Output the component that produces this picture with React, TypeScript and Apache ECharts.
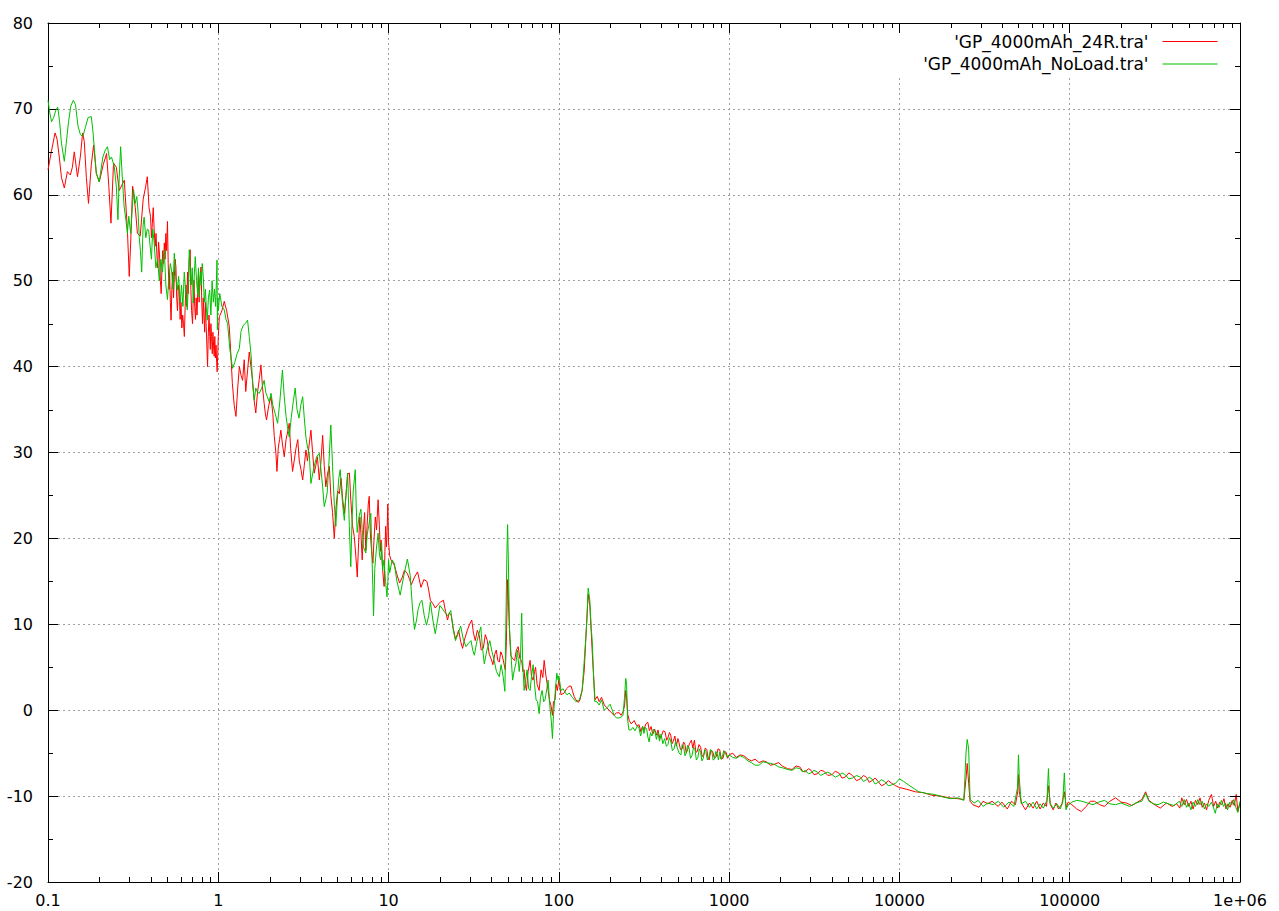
import React, { useEffect, useRef } from 'react';
import * as echarts from 'echarts';

const FONT = "'DejaVu Sans', 'Liberation Sans', sans-serif";
const X_MIN = 0.1;
const X_MAX = 1e6;
const Y_MIN = -20;
const Y_MAX = 80;
const Y_STEP = 10;
const xTickLabels = ['0.1', '1', '10', '100', '1000', '10000', '100000', '1e+06'];
const xMinorMantissas = [2, 3, 4, 5, 6, 7, 8, 9];
const xDecadeStarts = [0.1, 1, 10, 100, 1000, 10000, 100000];
const yMinorTicks = [-15, -5, 5, 15, 25, 35, 45, 55, 65, 75];
const seriesNames = ["'GP_4000mAh_24R.tra'", "'GP_4000mAh_NoLoad.tra'"];
const seriesColors = ['#ff0000', '#00c000'];

// ---- 'GP_4000mAh_24R.tra' (red) : [frequency, dB]
const redLow = [
  [0.1, 62.9], [0.1046, 65.0], [0.11, 67.2], [0.113, 66.5], [0.1165, 64.4], [0.12, 62.0], [0.1247, 60.8],
  [0.13, 62.7], [0.1353, 62.3], [0.139, 63.2], [0.1427, 65.0], [0.149, 62.1], [0.155, 64.5], [0.1597, 67.2],
  [0.1633, 66.2], [0.168, 62.0], [0.1729, 59.0], [0.1796, 63.5], [0.1853, 65.8], [0.1922, 62.5], [0.2, 61.5],
  [0.211, 63.5], [0.2208, 64.8], [0.2276, 61.0], [0.2343, 56.7], [0.2426, 63.7], [0.252, 63.2], [0.262, 60.5],
  [0.2806, 61.7], [0.2925, 56.0], [0.3, 50.5], [0.306, 54.5], [0.314, 61.0], [0.3256, 58.5], [0.335, 55.5],
  [0.348, 55.2], [0.3623, 59.5], [0.3749, 61.0], [0.383, 62.1], [0.392, 58.5],
  [0.4, 57.5], [0.405, 55.0], [0.41, 56.7], [0.415, 58.5], [0.42, 56.0], [0.426, 54.0], [0.431, 55.5],
  [0.436, 53.0], [0.441, 51.5], [0.446, 54.5], [0.452, 53.0], [0.457, 50.0], [0.462, 48.5], [0.467, 51.5],
  [0.472, 53.5], [0.477, 52.0], [0.482, 54.4], [0.487, 52.5], [0.492, 55.5], [0.497, 53.5], [0.503, 56.9],
  [0.508, 52.0], [0.513, 49.0], [0.518, 51.0], [0.523, 47.5], [0.528, 45.4], [0.534, 49.0], [0.54, 51.0],
  [0.546, 48.0], [0.552, 50.5], [0.558, 52.5], [0.564, 51.6], [0.57, 48.0], [0.576, 46.5], [0.583, 49.5],
  [0.59, 48.9], [0.597, 45.5], [0.604, 47.5], [0.611, 44.5], [0.618, 46.0], [0.625, 45.0], [0.632, 43.5],
  [0.639, 47.0], [0.646, 49.5], [0.653, 47.0], [0.66, 51.0], [0.667, 48.5], [0.675, 52.5], [0.684, 53.6],
  [0.69, 49.0], [0.697, 46.5], [0.706, 45.0], [0.713, 48.0], [0.72, 50.0], [0.727, 47.0], [0.735, 45.5],
  [0.742, 48.0], [0.75, 46.0], [0.757, 48.5], [0.765, 51.0], [0.772, 47.5], [0.78, 50.0], [0.792, 51.6],
  [0.8, 47.5], [0.808, 45.0], [0.816, 48.0], [0.824, 46.0], [0.832, 44.0], [0.84, 47.5], [0.848, 45.0],
  [0.857, 42.5], [0.865, 40.0], [0.873, 43.5], [0.882, 46.0], [0.89, 44.0], [0.898, 42.0], [0.905, 45.0],
  [0.913, 43.5], [0.922, 41.5], [0.93, 44.0], [0.938, 42.5], [0.946, 41.2], [0.954, 43.5], [0.962, 41.0],
  [0.97, 42.5], [0.978, 40.5], [0.985, 39.4], [0.993, 41.5], [1.0, 43.5],
];
const redMid = [
  [1.014, 45.8], [1.05, 46.5], [1.084, 47.6], [1.12, 46.5], [1.16, 44.7], [1.187, 41.2], [1.21, 38.0],
  [1.24, 35.5], [1.27, 34.2], [1.3, 37.5], [1.33, 40.0], [1.36, 39.0], [1.39, 38.4], [1.42, 40.8],
  [1.45, 37.1], [1.485, 39.5], [1.52, 41.7], [1.555, 40.0], [1.59, 38.4], [1.625, 36.0], [1.66, 34.6],
  [1.7, 37.0], [1.74, 38.5], [1.78, 40.2], [1.82, 37.5], [1.86, 35.7], [1.89, 34.5], [1.92, 33.8],
  [1.98, 35.5], [2.04, 36.5], [2.09, 34.5], [2.13, 32.0], [2.18, 29.9], [2.21, 27.8], [2.25, 30.5],
  [2.29, 31.5], [2.33, 32.6], [2.38, 31.0], [2.44, 29.5], [2.5, 31.5], [2.56, 32.5], [2.61, 33.4],
  [2.66, 30.5], [2.73, 27.8], [2.79, 29.0], [2.86, 30.5], [2.93, 31.5], [2.99, 29.0], [3.06, 28.0],
  [3.13, 26.8], [3.2, 28.5], [3.27, 30.3], [3.34, 29.0], [3.42, 31.0], [3.5, 32.6], [3.58, 30.0],
  [3.66, 27.6], [3.74, 28.5], [3.82, 29.5], [3.92, 26.8], [4.01, 29.0], [4.1, 32.0], [4.19, 28.5],
  [4.28, 26.0], [4.38, 27.5], [4.49, 28.4], [4.58, 25.0], [4.69, 23.0], [4.8, 20.0], [4.91, 23.5],
  [5.02, 25.5], [5.14, 25.2], [5.26, 27.0], [5.38, 24.5], [5.5, 22.9], [5.62, 25.0], [5.75, 27.5],
  [5.89, 27.6], [6.0, 24.5], [6.14, 21.5], [6.29, 20.2], [6.42, 18.0], [6.55, 15.5], [6.67, 19.5],
  [6.78, 22.5], [6.88, 20.6], [7.0, 17.5], [7.12, 21.0], [7.23, 23.0], [7.35, 18.6], [7.48, 21.5],
  [7.6, 24.0], [7.7, 24.9], [7.82, 20.5], [7.95, 18.5], [8.09, 17.1], [8.22, 20.0], [8.36, 22.5],
  [8.5, 21.0], [8.68, 24.5], [8.83, 21.5], [8.95, 18.5], [9.04, 19.8], [9.18, 17.0], [9.3, 15.5],
  [9.42, 14.4], [9.52, 18.5], [9.61, 21.4], [9.72, 19.0], [9.8, 20.8], [9.9, 24.0], [10.0, 19.5],
];
const redHigh = [
  [10.15, 18.0], [10.33, 17.5], [10.8, 16.9], [11.2, 15.8], [11.6, 14.8], [12.0, 15.4], [12.4, 16.3],
  [12.9, 15.9], [13.3, 15.2], [13.6, 14.6], [14.2, 15.5], [14.8, 16.1], [15.5, 14.3], [16.1, 15.2],
  [16.8, 15.0], [17.2, 14.0], [17.6, 12.8], [18.2, 12.4], [18.8, 11.9], [19.5, 12.3], [20.2, 12.6],
  [21.0, 12.8], [21.6, 11.5], [22.2, 10.5], [22.7, 11.3], [23.3, 11.1], [24.0, 9.5], [24.7, 8.3],
  [25.3, 8.8], [25.8, 9.3], [26.5, 8.0], [27.2, 7.2], [28.0, 8.3], [29.0, 9.3], [29.9, 10.0], [30.8, 10.5],
  [31.5, 9.0], [32.3, 8.1], [33.2, 9.3], [34.1, 8.7], [35.0, 7.0], [36.0, 7.2], [37.0, 8.8], [38.0, 8.1],
  [39.0, 6.5], [40.0, 6.0], [41.0, 5.3], [42.0, 6.5], [42.9, 7.0], [43.8, 5.8], [44.7, 5.6], [45.6, 6.8],
  [46.5, 6.4], [47.5, 5.5], [48.5, 4.7], [49.2, 8.0], [50.0, 15.2], [50.7, 12.0], [51.5, 8.5], [52.2, 6.4],
  [53.5, 6.0], [55.0, 5.8], [56.3, 7.0], [57.7, 7.4], [59.0, 6.0], [60.5, 5.8], [61.5, 4.5], [62.5, 4.7],
  [63.5, 3.0], [64.5, 2.3], [66.0, 4.5], [67.8, 5.8], [69.0, 4.0], [70.6, 3.5], [72.0, 4.5], [73.0, 5.0],
  [74.5, 3.0], [76.6, 2.3], [78.6, 4.7], [80.5, 3.8], [82.0, 5.8], [84.0, 4.0], [86.5, 2.3], [88.0, 1.2],
  [90.0, 0.5], [91.7, -0.6], [93.0, 1.0], [95.0, 1.2], [96.5, 3.0], [98.0, 2.3], [100.0, 3.5],
  [103, 1.8], [107.4, 2.0], [111, 2.5], [115, 2.8], [118, 2.8], [120, 2.3], [123, 1.6], [126, 1.2],
  [130, 0.9], [133, 1.2], [137, 2.3], [141, 4.7], [145, 9.5], [148.6, 13.5], [152, 12.2], [155, 9.0],
  [158, 5.8], [163, 1.2], [168, 1.6], [172.5, 1.0], [178, 1.5], [185, 0.6], [191, 0.3], [197, 0.0],
  [204, -0.3], [211, -0.6], [218, -0.3], [226, -0.3], [232, -0.6], [238, -0.2], [243, 0.5], [247, 2.3],
  [250, 1.5], [254, -0.5], [259, -1.2], [266, -1.6], [277, -1.2], [286, -1.8], [296, -1.7], [303, -2.5],
  [310, -1.9], [316, -2.3], [324, -1.6], [333, -1.4], [340, -2.4], [348, -1.9], [356, -2.8], [365, -2.2],
  [375, -2.9], [382, -2.3], [392, -3.3], [400, -3.0], [410, -2.4], [420, -2.5], [430, -3.5], [437, -3.2],
  [446, -2.6], [454, -2.9], [462, -3.9], [470, -3.6], [480, -3.0], [490, -4.2], [500, -3.3], [508, -3.8],
  [518, -4.6], [530, -4.5], [540, -3.7], [550, -4.0], [560, -5.0], [570, -4.6], [585, -3.9], [600, -3.5],
  [612, -4.4], [625, -3.5], [638, -4.9], [650, -4.8], [665, -4.0], [680, -4.3], [695, -5.4], [710, -5.2],
  [725, -4.4], [740, -4.6], [752, -5.6], [763, -5.8], [780, -4.7], [800, -4.8], [820, -5.6], [840, -5.4],
  [860, -4.5], [880, -4.6], [900, -5.7], [920, -5.6], [940, -4.8], [960, -4.9], [980, -5.6],
];
const redTail = [
  [1000, -5.2], [1050, -5.0], [1100, -5.5], [1160, -5.2], [1220, -5.3], [1290, -5.7], [1350, -5.9],
  [1420, -5.7], [1500, -6.1], [1580, -5.9], [1650, -6.0], [1750, -6.4], [1840, -6.3], [1950, -6.1],
  [2050, -6.5], [2200, -6.8], [2340, -6.9], [2470, -6.5], [2600, -6.6], [2700, -7.1], [2800, -7.2],
  [2920, -6.8], [3030, -7.0], [3150, -7.5], [3300, -7.4], [3450, -7.0], [3600, -7.1], [3800, -7.6],
  [4020, -7.5], [4200, -7.1], [4400, -7.3], [4600, -7.9], [4800, -7.8], [5050, -7.3], [5300, -7.6],
  [5600, -8.2], [5900, -8.0], [6150, -7.6], [6400, -7.8], [6650, -8.4], [6900, -8.2], [7200, -7.9],
  [7500, -8.3], [7850, -8.8], [8200, -8.6], [8600, -8.2], [9000, -8.5], [9500, -8.8], [10000, -9.0],
  [11000, -9.2], [12400, -9.5], [13800, -9.6], [15500, -9.9], [17500, -10.0], [19500, -10.2],
  [22000, -10.3], [23900, -10.4], [24600, -8.0], [25000, -6.2], [25500, -8.5], [26000, -10.6],
  [27000, -11.0], [29300, -11.3], [31000, -10.6], [33000, -10.9], [35000, -10.6], [38000, -11.2],
  [40000, -10.7], [43000, -11.5], [45500, -10.6], [48000, -11.0], [49500, -9.5], [50000, -7.5],
  [50600, -9.5], [52000, -10.8], [55000, -11.6], [58000, -10.8], [61000, -11.4], [64000, -10.6],
  [67000, -11.5], [70000, -10.8], [73000, -11.2], [75000, -8.8], [77000, -11.0], [80000, -11.6],
  [83000, -10.8], [86000, -11.5], [90000, -10.9], [93000, -9.5], [95500, -11.3], [98000, -10.7],
  [103000, -11.0], [110000, -11.5], [117000, -11.8], [125000, -11.2], [132000, -10.6], [140000, -10.6],
  [150000, -11.0], [160000, -11.2], [172000, -10.6], [186000, -10.2], [200000, -10.7], [215000, -10.8],
  [232000, -11.1], [250000, -10.7], [265000, -10.4], [279000, -9.5], [292000, -10.5], [310000, -10.9],
  [340000, -11.4], [370000, -10.8], [400000, -11.2], [425000, -10.9], [443000, -11.4], [455000, -10.2],
  [470000, -11.0], [485000, -10.4], [500000, -11.2], [515000, -10.6], [530000, -11.5], [548000, -10.5],
  [565000, -11.0], [582000, -10.2], [600000, -11.3], [618000, -10.8], [636000, -11.6], [655000, -10.5],
  [680000, -9.8], [700000, -11.2], [720000, -10.6], [740000, -11.4], [760000, -10.7], [782000, -11.0],
  [805000, -10.3], [828000, -11.5], [850000, -10.9], [875000, -11.3], [900000, -10.5], [925000, -11.1],
  [950000, -9.8], [972000, -11.8], [1000000, -10.8],
];

// ---- 'GP_4000mAh_NoLoad.tra' (green) : [frequency, dB]
const greenLow = [
  [0.1, 71.0], [0.1025, 69.5], [0.105, 68.5], [0.108, 69.0], [0.111, 69.8], [0.114, 70.2], [0.117, 68.5],
  [0.12, 66.0], [0.1247, 63.9], [0.128, 66.0], [0.132, 68.5], [0.136, 70.3], [0.1408, 71.0], [0.145, 70.5],
  [0.15, 68.0], [0.155, 67.0], [0.16, 66.8], [0.1656, 67.8], [0.172, 69.0], [0.1796, 69.1], [0.184, 67.2],
  [0.1922, 62.5], [0.2, 61.5], [0.205, 63.0], [0.21, 64.4], [0.217, 65.2], [0.2235, 65.6], [0.23, 64.1],
  [0.236, 64.4], [0.245, 63.3], [0.252, 60.9], [0.2575, 57.1], [0.262, 62.0], [0.267, 65.6], [0.274, 61.5],
  [0.28, 58.6], [0.287, 57.0], [0.2925, 55.5], [0.298, 57.5], [0.306, 55.5], [0.3115, 58.0], [0.318, 60.6],
  [0.325, 59.0], [0.3323, 59.8], [0.338, 58.0], [0.3436, 55.0], [0.349, 53.5], [0.355, 51.0], [0.362, 56.5],
  [0.367, 57.4], [0.375, 55.0], [0.383, 56.0], [0.39, 55.9], [0.398, 54.0], [0.405, 52.5], [0.412, 56.0],
  [0.42, 54.5], [0.43, 51.5], [0.44, 52.5], [0.4504, 50.0], [0.46, 52.5], [0.47, 51.0], [0.482, 53.6],
  [0.492, 49.5], [0.503, 47.8], [0.513, 50.5], [0.523, 52.0], [0.533, 51.0], [0.542, 49.0], [0.5515, 53.2],
  [0.562, 50.5], [0.5744, 48.9], [0.585, 50.5], [0.5982, 47.4], [0.608, 49.5], [0.62, 47.0], [0.6314, 51.0],
  [0.645, 48.5], [0.6577, 46.6], [0.668, 50.0], [0.6756, 53.6], [0.686, 51.0], [0.694, 49.5], [0.703, 51.5],
  [0.7131, 47.4], [0.722, 50.5], [0.7326, 52.8], [0.745, 50.0], [0.757, 48.5], [0.765, 51.5], [0.773, 48.1],
  [0.785, 51.0], [0.795, 49.5], [0.805, 52.0], [0.8164, 50.5], [0.828, 47.5], [0.84, 49.0], [0.85, 47.0],
  [0.8617, 45.4], [0.875, 48.0], [0.89, 48.9], [0.905, 46.0], [0.92, 50.0], [0.935, 47.5], [0.95, 49.0],
  [0.965, 47.0], [0.975, 50.0], [0.983, 52.4], [0.988, 44.3], [0.993, 48.0], [1.0, 46.5],
];
const greenMid = [
  [1.02, 48.5], [1.05, 47.0], [1.084, 46.6], [1.11, 45.5], [1.134, 45.0], [1.17, 42.0], [1.213, 39.8],
  [1.25, 40.5], [1.29, 41.5], [1.329, 42.1], [1.36, 44.1], [1.4, 44.8], [1.44, 45.0], [1.486, 45.4],
  [1.52, 43.5], [1.56, 41.2], [1.59, 38.0], [1.627, 36.1], [1.66, 37.5], [1.7, 37.0], [1.74, 36.9],
  [1.8, 37.5], [1.86, 38.4], [1.9, 37.0], [1.94, 36.5], [1.99, 35.9], [2.04, 36.9], [2.09, 35.5],
  [2.16, 34.5], [2.23, 33.4], [2.3, 36.0], [2.38, 39.6], [2.44, 36.5], [2.5, 34.2], [2.55, 33.0],
  [2.61, 31.8], [2.68, 34.0], [2.76, 36.0], [2.83, 37.5], [2.9, 35.0], [2.98, 34.0], [3.05, 35.5],
  [3.13, 36.5], [3.2, 34.0], [3.27, 31.8], [3.35, 30.5], [3.42, 29.9], [3.5, 26.4], [3.58, 27.5],
  [3.66, 28.4], [3.78, 29.5], [3.92, 29.9], [4.01, 28.0], [4.1, 26.0], [4.19, 23.7], [4.28, 24.5],
  [4.36, 25.3], [4.47, 29.0], [4.58, 33.2], [4.64, 30.5], [4.69, 28.4], [4.8, 24.0], [4.9, 21.4],
  [5.0, 24.5], [5.1, 27.0], [5.2, 28.0], [5.3, 25.5], [5.4, 23.5], [5.5, 22.1], [5.62, 25.0],
  [5.75, 27.6], [5.88, 21.5], [6.0, 16.7], [6.1, 22.0], [6.2, 25.5], [6.37, 28.0], [6.45, 24.0],
  [6.54, 20.7], [6.7, 22.5], [6.88, 23.4], [7.0, 21.0], [7.12, 19.0], [7.35, 18.3], [7.5, 20.5],
  [7.65, 21.5], [7.87, 22.9], [8.0, 17.5], [8.08, 14.5], [8.16, 11.0], [8.3, 16.5], [8.5, 19.0],
  [8.68, 20.6], [8.85, 18.0], [9.0, 17.5], [9.1, 19.5], [9.23, 16.3], [9.4, 17.5], [9.6, 15.0],
  [9.79, 13.2], [9.9, 15.0], [10.0, 17.5],
];
const greenHigh = [
  [10.15, 16.0], [10.5, 17.5], [10.8, 17.1], [11.2, 15.0], [11.7, 13.4], [12.3, 15.7], [12.9, 17.6],
  [13.4, 15.7], [13.8, 12.0], [14.2, 9.4], [14.6, 10.5], [14.9, 11.7], [15.3, 12.5], [15.7, 12.8],
  [16.2, 11.0], [16.7, 9.9], [17.2, 11.0], [17.6, 12.6], [18.2, 10.5], [18.8, 8.9], [19.4, 10.5],
  [20.0, 12.2], [20.7, 11.8], [21.4, 11.4], [22.3, 11.0], [23.2, 11.6], [23.9, 9.5], [24.7, 8.1],
  [25.5, 8.8], [26.5, 9.8], [27.5, 8.2], [28.5, 7.4], [29.5, 7.8], [30.5, 8.1], [31.2, 7.0], [31.9, 6.4],
  [33.0, 8.0], [34.8, 9.7], [35.5, 7.5], [36.5, 5.4], [37.8, 7.0], [39.3, 8.1], [40.5, 6.8], [41.7, 5.8],
  [43.0, 4.5], [44.7, 3.9], [45.8, 5.3], [47.0, 4.0], [48.2, 2.2], [48.8, 9.4], [49.5, 18.0], [50.0, 21.6],
  [50.5, 17.5], [51.3, 9.5], [52.6, 5.8], [53.5, 3.5], [54.8, 4.7], [56.0, 5.5], [57.1, 7.0], [58.5, 4.5],
  [59.5, 6.0], [60.5, 11.3], [61.3, 5.8], [62.5, 2.3], [63.8, 3.5], [65.1, 4.7], [66.5, 2.5], [67.8, 2.3],
  [69.0, 3.8], [70.6, 5.3], [72.0, 3.0], [73.5, 1.2], [75.0, 1.0], [76.6, -0.4], [78.0, 1.5], [79.7, 2.3],
  [81.5, 1.0], [83.0, 1.2], [85.0, 2.5], [86.5, 3.5], [88.5, 0.5], [90.5, -1.5], [91.7, -3.3], [93.0, -0.5],
  [94.0, 0.6], [95.5, 2.5], [97.3, 4.3], [99.0, 3.5], [100.0, 4.0],
  [103, 2.3], [106, 2.5], [109, 2.0], [112, 1.8], [115, 2.0], [120, 1.5], [125.8, 1.0], [132, 1.2],
  [137, 2.3], [141, 5.8], [144, 8.5], [146, 10.4], [148.6, 14.2], [150.5, 13.5], [152, 12.8], [155, 9.5],
  [157, 8.1], [160, 4.0], [162.5, 1.0], [167, 1.0], [172.5, 0.6], [178, 1.2], [184.6, 0.0], [192, 0.3],
  [200, 0.7], [206, 0.0], [211, -0.6], [218, -0.9], [226, -0.9], [232, -0.8], [238, -0.6], [243, 1.5],
  [247, 3.7], [250, 3.0], [253, -1.0], [258, -2.3], [265, -2.3], [272, -2.0], [280, -2.4], [290, -1.8],
  [296, -2.1], [302, -3.0], [306, -2.5], [311, -1.9], [316, -2.7], [322, -2.0], [328, -2.2], [333, -3.1],
  [339, -3.7], [345, -2.6], [352, -3.0], [359, -2.2], [366, -2.4], [374, -3.4], [382, -2.6], [390, -3.6],
  [398, -2.8], [408, -3.9], [418, -3.3], [428, -4.2], [437, -4.0], [446, -3.2], [454, -3.6], [464, -4.7],
  [475, -4.5], [485, -3.6], [495, -4.3], [508, -5.0], [521, -5.2], [530, -4.0], [540, -4.2], [550, -5.3],
  [560, -5.0], [570, -4.1], [582, -4.4], [593, -5.6], [605, -5.3], [618, -4.3], [630, -4.6], [642, -5.8],
  [655, -5.5], [668, -4.5], [680, -4.9], [692, -5.9], [705, -5.6], [718, -4.6], [730, -4.8], [745, -5.8],
  [763, -5.4], [776, -4.6], [790, -4.7], [805, -5.8], [820, -5.7], [835, -4.8], [850, -5.0], [865, -5.8],
  [880, -4.9], [895, -5.7], [910, -5.5], [930, -4.7], [950, -5.0], [975, -5.5],
];
const greenTail = [
  [1000, -5.2], [1050, -5.5], [1100, -5.6], [1160, -5.3], [1220, -5.5], [1290, -5.9], [1350, -6.1],
  [1420, -6.4], [1500, -6.4], [1580, -6.0], [1650, -6.1], [1750, -6.2], [1840, -6.3], [1950, -6.6],
  [2050, -6.7], [2200, -6.9], [2340, -7.0], [2470, -6.7], [2600, -6.8], [2700, -7.2], [2800, -7.0],
  [2920, -7.4], [3030, -7.3], [3150, -7.0], [3300, -7.2], [3450, -7.6], [3600, -7.4], [3800, -7.2],
  [4020, -7.5], [4200, -7.8], [4400, -7.6], [4600, -7.3], [4800, -7.5], [5050, -8.0], [5300, -7.9],
  [5600, -7.6], [5900, -7.8], [6150, -8.3], [6400, -8.1], [6650, -7.8], [6900, -8.0], [7200, -8.6],
  [7500, -8.4], [7850, -8.1], [8200, -8.3], [8600, -8.8], [9000, -8.7], [9500, -8.5], [10000, -8.0],
  [10600, -8.3], [11500, -8.8], [13000, -9.5], [14500, -9.7], [16000, -9.8], [18000, -10.1],
  [20000, -10.3], [22000, -10.2], [23900, -10.5], [24600, -5.0], [25000, -3.4], [25500, -4.5],
  [26000, -10.4], [27500, -10.8], [29000, -10.5], [31000, -11.2], [33000, -10.8], [35500, -11.0],
  [38000, -10.6], [41000, -11.3], [44000, -10.7], [47000, -11.2], [49400, -9.0], [50000, -5.2],
  [50600, -8.0], [52000, -10.9], [55000, -10.6], [58000, -11.3], [61000, -10.7], [64000, -11.5],
  [67000, -10.9], [70000, -11.4], [73500, -10.5], [75000, -6.8], [76500, -10.8], [80000, -11.4],
  [84000, -10.9], [88000, -11.5], [91000, -10.7], [93000, -7.3], [95000, -11.6], [98000, -11.0],
  [103000, -10.7], [110000, -10.5], [118000, -10.6], [127000, -10.8], [137000, -11.0], [148000, -10.7],
  [160000, -10.5], [172000, -10.9], [186000, -11.0], [200000, -10.8], [225000, -11.2], [245000, -10.8],
  [265000, -10.6], [279000, -9.7], [292000, -10.6], [310000, -10.9], [330000, -11.0], [355000, -10.7],
  [380000, -10.9], [410000, -11.1], [440000, -10.6], [455000, -11.2], [470000, -10.4], [485000, -11.3],
  [500000, -10.8], [515000, -11.6], [530000, -10.7], [548000, -11.2], [565000, -10.4], [582000, -11.0],
  [600000, -10.6], [618000, -11.5], [636000, -10.9], [655000, -11.2], [680000, -10.7], [700000, -11.4],
  [716000, -12.0], [735000, -10.9], [755000, -11.3], [778000, -10.5], [800000, -11.2], [822000, -10.8],
  [845000, -11.6], [870000, -10.7], [895000, -11.0], [920000, -10.4], [945000, -11.3], [970000, -11.9],
  [1000000, -10.6],
];

const redData = [...redLow, ...redMid, ...redHigh, ...redTail];
const greenData = [...greenLow, ...greenMid, ...greenHigh, ...greenTail];

const MINOR_LEN = 5;
const MAJOR_LEN = 10;

export default function App() {
  const ref = useRef<HTMLDivElement>(null);

  useEffect(() => {
    if (!ref.current) return;
    const chart = echarts.init(ref.current, null, { renderer: 'svg' });

    const xMinorValues: number[] = [];
    xDecadeStarts.forEach((d) => xMinorMantissas.forEach((m) => xMinorValues.push(m * d)));
    const minorTickData = [
      ...xMinorValues.map((v) => [v, Y_MIN, 0]),
      ...yMinorTicks.map((v) => [X_MIN, v, 1]),
    ];

    const tickStyle = { color: '#000', width: 1 };
    const axisLine = { show: true, onZero: false, lineStyle: { color: '#000', width: 1 } };
    const labelStyle = { color: '#000', fontSize: 16, fontFamily: FONT };

    const option: any = {
      animation: false,
      backgroundColor: '#fff',
      textStyle: { fontFamily: FONT },
      grid: { left: 48, right: 39, top: 23, bottom: 29, containLabel: false },
      legend: {
        data: seriesNames,
        orient: 'vertical',
        right: 39,
        top: 23,
        align: 'right',
        itemWidth: 55,
        itemHeight: 14,
        itemGap: 5.5,
        padding: [10, 22, 3, 35],
        backgroundColor: '#fff',
        z: 4,
        itemStyle: { opacity: 0 },
        lineStyle: { width: 1 },
        textStyle: { color: '#000', fontSize: 17, fontFamily: FONT, padding: [0, 9, 0, 0] },
      },
      xAxis: [
        {
          type: 'log', logBase: 10, min: X_MIN, max: X_MAX, position: 'bottom', z: 0,
          axisLine,
          axisTick: { show: true, inside: true, length: MAJOR_LEN, lineStyle: tickStyle },
          axisLabel: {
            ...labelStyle, margin: 10, showMinLabel: true, showMaxLabel: true,
            formatter: (v: number) => xTickLabels[Math.round(Math.log10(v)) + 1] ?? '',
          },
          splitLine: { show: true, lineStyle: { color: '#a0a0a0', width: 1, type: [2, 3] } },
        },
        {
          type: 'log', logBase: 10, min: X_MIN, max: X_MAX, position: 'top', z: 10,
          axisLine,
          axisTick: { show: true, inside: true, length: MAJOR_LEN, lineStyle: tickStyle },
          axisLabel: { show: false },
          splitLine: { show: false },
        },
      ],
      yAxis: [
        {
          type: 'value', min: Y_MIN, max: Y_MAX, interval: Y_STEP, position: 'left', z: 0,
          axisLine,
          axisTick: { show: true, inside: true, length: MAJOR_LEN, lineStyle: tickStyle },
          axisLabel: { ...labelStyle, margin: 15, showMinLabel: true, showMaxLabel: true },
          splitLine: { show: true, lineStyle: { color: '#a0a0a0', width: 1, type: [2, 3] } },
        },
        {
          type: 'value', min: Y_MIN, max: Y_MAX, interval: Y_STEP, position: 'right', z: 10,
          axisLine,
          axisTick: { show: true, inside: true, length: MAJOR_LEN, lineStyle: tickStyle },
          axisLabel: { show: false },
          splitLine: { show: false },
        },
      ],
      series: [
        {
          name: seriesNames[0], type: 'line', data: redData, xAxisIndex: 0, yAxisIndex: 0,
          symbol: 'none', showSymbol: false,
          lineStyle: { color: seriesColors[0], width: 1 }, itemStyle: { color: seriesColors[0] }, z: 2,
        },
        {
          name: seriesNames[1], type: 'line', data: greenData, xAxisIndex: 0, yAxisIndex: 0,
          symbol: 'none', showSymbol: false,
          lineStyle: { color: seriesColors[1], width: 1 }, itemStyle: { color: seriesColors[1] }, z: 3,
        },
        {
          type: 'custom', xAxisIndex: 0, yAxisIndex: 0, z: 10, silent: true, clip: false,
          data: minorTickData,
          encode: { x: 0, y: 1 },
          renderItem: (_params: any, api: any) => {
            const kind = api.value(2);
            const st = { stroke: '#000', lineWidth: 1 };
            if (kind === 0) {
              const x = api.value(0);
              const b = api.coord([x, Y_MIN]);
              const t = api.coord([x, Y_MAX]);
              const px = Math.round(b[0]) + 0.5;
              return {
                type: 'group',
                children: [
                  { type: 'line', shape: { x1: px, y1: b[1], x2: px, y2: b[1] - MINOR_LEN }, style: st },
                  { type: 'line', shape: { x1: px, y1: t[1], x2: px, y2: t[1] + MINOR_LEN }, style: st },
                ],
              };
            }
            const y = api.value(1);
            const l = api.coord([X_MIN, y]);
            const r = api.coord([X_MAX, y]);
            const py = Math.round(l[1]) + 0.5;
            return {
              type: 'group',
              children: [
                { type: 'line', shape: { x1: l[0], y1: py, x2: l[0] + MINOR_LEN, y2: py }, style: st },
                { type: 'line', shape: { x1: r[0], y1: py, x2: r[0] - MINOR_LEN, y2: py }, style: st },
              ],
            };
          },
        },
      ],
    };

    chart.setOption(option);
    return () => chart.dispose();
  }, []);

  return (
    <div
      ref={ref}
      style={{ position: 'absolute', left: 0, top: 0, width: 1279, height: 911, background: '#fff' }}
    />
  );
}
